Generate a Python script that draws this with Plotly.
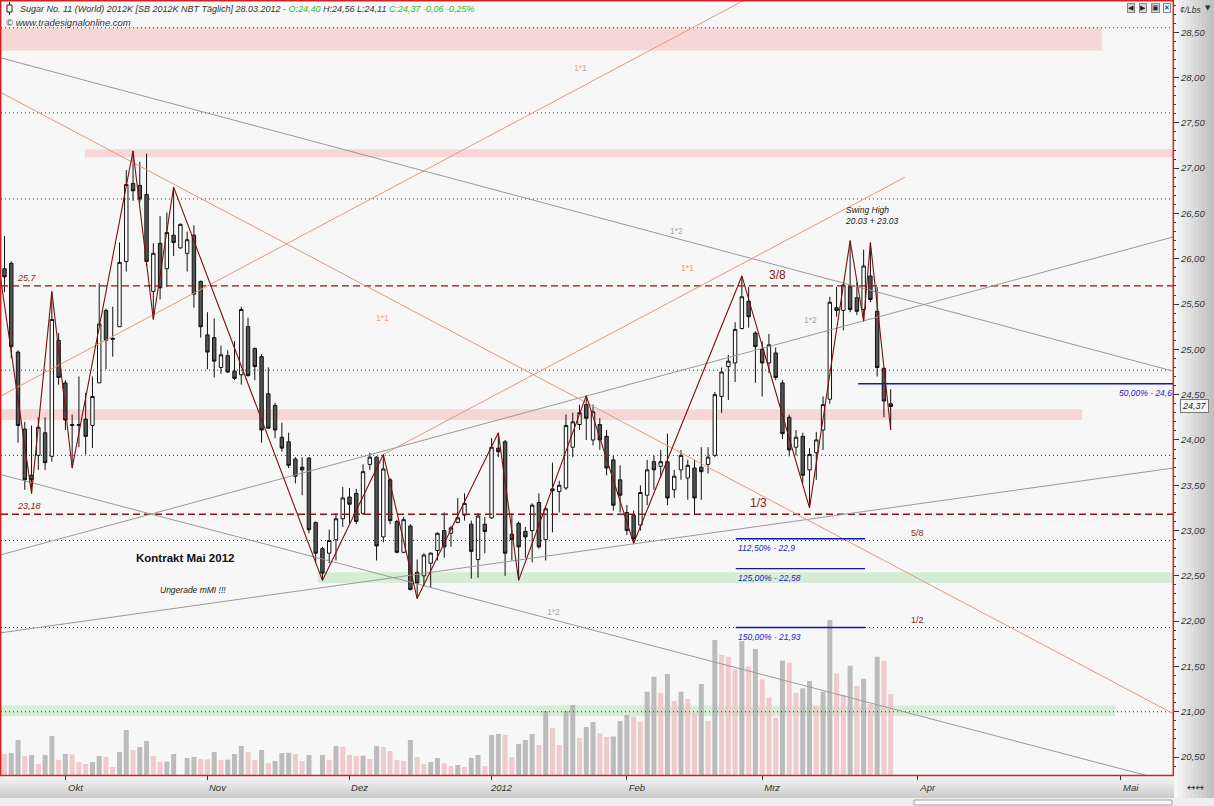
import plotly.graph_objects as go

FONT = "Liberation Sans"

# ---------------- data ----------------
days = list(range(132))   # trading-day index, 0 = 20.09.2011 ... 131 = 28.03.2012

opens = [25.89,25.95,24.97,24.12,23.61,23.83,24.08,23.82,25.10,24.63,
         24.17,24.16,24.23,24.16,24.63,25.43,25.11,25.25,25.97,26.83,
         26.81,26.71,25.64,26.17,25.89,26.26,26.12,26.06,26.26,25.75,
         25.16,25.13,24.80,24.93,24.76,24.72,25.25,25.01,24.92,24.51,
         24.38,24.03,23.98,23.79,23.70,23.80,23.09,22.80,22.75,22.90,
         23.13,23.37,23.41,23.19,23.73,23.81,22.93,23.56,23.10,22.76,
         23.05,22.54,22.50,22.64,22.78,23.00,22.97,23.09,23.17,23.07,
         22.68,23.07,23.14,23.91,23.98,22.96,23.08,22.99,23.00,23.31,
         22.90,23.46,23.43,23.47,23.92,24.17,24.39,24.00,24.17,24.04,
         23.78,23.56,23.20,23.17,23.06,23.39,23.76,23.71,23.76,23.45,
         23.67,23.58,23.69,23.70,23.73,23.83,24.48,24.81,24.85,25.23,
         25.53,25.18,25.00,24.85,24.96,24.63,24.25,23.92,24.04,23.67,
         23.86,24.11,24.45,25.46,25.43,25.69,25.57,25.44,25.81,25.42,
         24.79,24.40]
highs = [26.25,25.97,24.99,24.20,24.16,24.25,24.25,25.64,25.18,24.66,
         24.28,24.70,24.52,24.70,25.73,25.45,25.47,26.18,26.98,27.19,
         27.07,27.16,26.17,26.47,26.51,26.79,26.39,26.30,26.37,25.76,
         25.41,25.34,25.04,24.99,25.09,25.47,25.35,25.02,24.95,24.80,
         24.41,24.19,24.08,23.81,23.81,23.81,23.10,22.82,23.01,23.19,
         23.48,23.47,23.46,23.73,23.86,23.82,23.84,23.58,23.12,23.15,
         23.07,22.68,22.75,22.76,22.98,23.20,23.05,23.36,23.41,23.11,
         23.19,23.15,24.02,24.08,24.00,23.19,23.10,23.04,23.30,23.41,
         23.26,23.75,23.55,24.28,24.30,24.39,24.49,24.39,24.24,24.11,
         23.83,23.72,23.28,23.22,23.50,23.78,23.83,23.89,24.07,23.67,
         23.89,23.78,23.78,23.92,23.92,24.53,24.80,24.94,25.30,25.81,
         25.69,25.20,25.09,25.17,25.02,24.66,24.28,24.11,24.08,23.91,
         24.09,24.48,25.58,25.69,25.72,26.20,25.74,26.10,26.18,25.69,
         24.80,24.56]
lows = [25.63,24.90,23.97,23.45,23.41,23.67,23.67,23.76,24.61,24.11,
        23.69,23.92,23.84,23.91,24.63,24.78,24.92,25.25,25.86,26.64,
        26.62,25.92,25.33,25.55,25.69,26.03,26.11,25.86,25.46,25.13,
        24.78,24.69,24.73,24.74,24.66,24.61,24.70,24.66,23.97,24.12,
        24.02,23.87,23.69,23.52,23.39,22.97,22.64,22.45,22.64,22.67,
        23.04,23.08,23.07,23.17,23.67,22.67,22.87,23.07,22.75,22.75,
        22.34,22.25,22.39,22.37,22.67,22.70,22.82,23.08,23.11,22.47,
        22.48,22.75,23.13,23.81,22.50,22.67,22.45,22.70,22.65,22.80,
        22.67,22.98,23.20,23.45,23.81,24.11,24.00,23.94,23.89,23.61,
        23.22,23.20,22.95,22.86,23.00,23.28,23.45,23.58,23.28,23.36,
        23.56,23.34,23.17,23.34,23.63,23.81,24.30,24.44,24.64,25.22,
        25.24,24.63,24.48,24.74,24.66,24.01,23.82,23.83,23.52,23.25,
        23.56,23.89,24.40,25.36,25.21,25.41,25.38,25.31,25.52,24.70,
        24.25,24.11]
closes = [25.80,25.03,24.16,23.56,23.56,24.14,23.75,25.33,24.69,24.22,
          24.16,24.17,24.04,24.48,25.28,25.10,25.12,25.96,26.82,26.75,
          26.66,25.97,26.06,25.68,26.29,26.18,26.38,26.21,25.61,25.25,
          24.97,24.87,24.94,24.75,24.68,25.44,24.71,24.81,24.11,24.13,
          24.11,23.91,23.72,23.60,23.67,23.01,22.75,22.53,22.89,23.13,
          23.36,23.29,23.10,23.65,23.81,22.83,23.68,23.11,22.76,23.12,
          22.35,22.42,22.73,22.75,22.97,22.82,23.03,23.14,23.30,22.77,
          23.16,22.99,23.92,23.87,22.75,22.90,22.82,22.93,23.28,22.82,
          23.24,23.44,23.50,24.16,24.20,24.30,24.24,24.31,24.00,23.69,
          23.28,23.39,23.00,22.91,23.42,23.67,23.67,23.76,23.36,23.60,
          23.83,23.72,23.36,23.65,23.81,24.50,24.75,24.87,25.22,25.58,
          25.36,25.03,24.85,25.05,24.69,24.07,23.89,24.03,23.61,23.84,
          24.00,24.39,25.52,25.43,25.71,25.44,25.42,25.92,25.55,24.80,
          24.43,24.37]
# volume, thousand lots
volume = [21,22,35,19,20,11,20,39,15,21,
          20.5,13,11,13,19,18,8,23,45,25,
          28,34,19,13,13.5,21,0,17,18,16,
          15.7,23,15,15.3,21,29,23,15,25,12,
          14,22,22.3,21,14,20,0,20,15,29,
          28,20,19,19.3,16,29,28,24,15,14,
          35,18,11,13,17,12,9,10,8,17,
          20,9,40,41,40,18,31,35,41,30,
          64,47,30,64,70,37,48,53,41.7,38,
          38.5,54,60,58.3,53.3,83.3,98.3,82.3,101,74,
          83.3,76,62.3,91,54,135,120,118.3,105.7,134,
          108.3,126,95.7,77.3,57.3,114.3,112.3,82.3,86.7,94,
          69,83.3,155,101.7,80,109.3,89,96.3,71,118.3,
          114.3,81]

# zigzag swing pivots (day index, H/L)
zz_start = (-0.6, 25.80)
zz_pivots = [(4,'L'),(7,'H'),(10,'L'),(19,'H'),(22,'L'),(25,'H'),(47,'L'),(56,'H'),
             (61,'L'),(73,'H'),(76,'L'),(86,'H'),(93,'L'),(109,'H'),(119,'L'),
             (125,'H'),(127,'L'),(128,'H'),(131,'L')]

# trend / gann lines: ((day0, price0), (day1, price1))
gray_lines = [((-0.67, 28.22), (172.73, 24.76)),
              ((-0.67, 22.73), (172.73, 26.24)),
              ((-0.67, 23.62), (172.73, 20.22)),
              ((-0.67, 21.87), (172.73, 23.69))]
orange_lines = [((-0.67, 24.48), (109.5, 28.86)),
                ((56, 23.84), (133.1, 26.90)),
                ((-0.67, 27.84), (172.73, 20.98))]

dotted_levels = [21.00, 21.93, 22.89, 23.83, 24.77, 26.66, 27.61, 28.55]
dashed_levels = [25.70, 23.18]
dashed_labels = ["25,7", "23,18"]

pink_bands = [(-0.6, 162.2, 28.30, 28.55), (11.9, 172.8, 27.12, 27.21), (-0.6, 159.3, 24.22, 24.34)]
green_bands = [(46.3, 172.8, 22.42, 22.54), (-0.6, 164.2, 20.95, 21.07)]

fib_pct = ["50,00%", "112,50%", "125,00%", "150,00%"]
fib_levels = [24.62, 22.91, 22.58, 21.93]
fib_values = ["24,6", "22,9", "22,58", "21,93"]
fib_start = [126.2, 108.1, 108.1, 108.1]
fib_end = [172.8, 127.2, 127.2, 127.2]

mm_labels = ["3/8", "1/3", "5/8", "1/2"]
mm_day = [114.3, 111.4, 135.0, 135.0]
mm_price = [25.70, 23.18, 22.89, 21.93]

gann_labels = ["1*1", "1*1", "1*1", "1*2", "1*2", "1*2"]
gann_day = [85.1, 101.0, 55.9, 99.3, 119.1, 81.1]
gann_price = [28.11, 25.90, 25.35, 26.31, 25.32, 22.10]

month_ticks = [9, 30, 51, 72, 92, 112, 135, 165]
month_labels = ["Okt", "Nov", "Dez", "2012", "Feb", "Mrz", "Apr", "Mai"]

X_RANGE = [-0.517, 172.73]
Y_RANGE = [20.302, 28.845]
VOL_RANGE = [0, 774]

# ---------------- helpers ----------------
W, H = 1214, 806
ML, MR, MT, MB = 1, 41, 1, 31
PW, PH = W - ML - MR, H - MT - MB


def px(x):
    return (x - ML) / PW


def py(y):
    return (MT + PH - y) / PH


def de(v, nd=2):
    return f"{v:.{nd}f}".replace('.', ',')


fig = go.Figure()

# volume (base axis, drawn first)
vcol = []
for i, v in enumerate(volume):
    up = i > 0 and v >= volume[i - 1]
    vcol.append('#b5b5b5' if up else '#efc5c5')
fig.add_trace(go.Bar(x=days, y=volume, marker=dict(color=vcol, line=dict(width=0)),
                     width=0.74, opacity=0.88, yaxis='y', hoverinfo='skip', showlegend=False))

xl = [X_RANGE[0], X_RANGE[1]]
for lv in dotted_levels:
    fig.add_trace(go.Scatter(x=xl, y=[lv, lv], mode='lines', yaxis='y2',
                             line=dict(color='#333333', width=1, dash='1px,3px'),
                             hoverinfo='skip', showlegend=False))
for lv in dashed_levels:
    fig.add_trace(go.Scatter(x=xl, y=[lv, lv], mode='lines', yaxis='y2',
                             line=dict(color='#8b1414', width=1.3, dash='7px,4px'),
                             hoverinfo='skip', showlegend=False))
for (a, b) in gray_lines:
    fig.add_trace(go.Scatter(x=[a[0], b[0]], y=[a[1], b[1]], mode='lines', yaxis='y2',
                             line=dict(color='#9a9a9a', width=1), hoverinfo='skip', showlegend=False))
for (a, b) in orange_lines:
    fig.add_trace(go.Scatter(x=[a[0], b[0]], y=[a[1], b[1]], mode='lines', yaxis='y2',
                             line=dict(color='#e39a7c', width=1), hoverinfo='skip', showlegend=False))
zx = [zz_start[0]] + [d for d, t in zz_pivots]
zy = [zz_start[1]] + [highs[d] if t == 'H' else lows[d] for d, t in zz_pivots]
fig.add_trace(go.Scatter(x=zx, y=zy, mode='lines', yaxis='y2',
                         line=dict(color='#7d0f0f', width=1.1), hoverinfo='skip', showlegend=False))
for s, e, lv in zip(fib_start, fib_end, fib_levels):
    fig.add_trace(go.Scatter(x=[s, e], y=[lv, lv], mode='lines', yaxis='y2',
                             line=dict(color='#1414b4', width=1.4), hoverinfo='skip', showlegend=False))
fig.add_trace(go.Candlestick(x=days, open=opens, high=highs, low=lows, close=closes, yaxis='y2',
                             increasing=dict(line=dict(color='#111111', width=1), fillcolor='#ffffff'),
                             decreasing=dict(line=dict(color='#111111', width=1), fillcolor='#555555'),
                             whiskerwidth=0, hoverinfo='skip', showlegend=False))

shapes = []
for x0, x1, lo, hi in pink_bands:
    shapes.append(dict(type='rect', xref='x', yref='y2', x0=x0, x1=x1, y0=lo, y1=hi,
                       fillcolor='#f6d6d6', line=dict(width=0), layer='below'))
for x0, x1, lo, hi in green_bands:
    shapes.append(dict(type='rect', xref='x', yref='y2', x0=x0, x1=x1, y0=lo, y1=hi,
                       fillcolor='#d5ecd5', line=dict(width=0), layer='below'))

for k in range(10):
    g = int(246 - k * 6)
    shapes.append(dict(type='rect', xref='paper', yref='paper',
                       x0=px(1174 + k * 4.0), x1=px(1174 + (k + 1) * 4.0 + 0.5), y0=py(806), y1=py(0),
                       fillcolor=f'rgb({g},{g},{g})', line=dict(width=0), layer='below'))
for k in range(11):
    g = int(244 - k * 4)
    shapes.append(dict(type='rect', xref='paper', yref='paper',
                       x0=px(0), x1=px(1174), y0=py(776 + (k + 1) * 2 + 0.3), y1=py(776 + k * 2),
                       fillcolor=f'rgb({g},{g},{g})', line=dict(width=0), layer='below'))
shapes.append(dict(type='rect', xref='paper', yref='paper', x0=px(0), x1=px(1214), y0=py(806), y1=py(798),
                   fillcolor='#eeeeee', line=dict(width=0), layer='below'))
shapes.append(dict(type='rect', xref='paper', yref='paper', x0=px(914), x1=px(1172), y0=py(805), y1=py(800),
                   fillcolor='#f8f8f8', line=dict(color='#a0a0a0', width=1), layer='below'))
shapes.append(dict(type='rect', xref='paper', yref='paper', x0=px(0.7), x1=px(1173.3), y0=py(775.5), y1=py(0.7),
                   line=dict(color='#d42020', width=1.5), fillcolor='rgba(0,0,0,0)', layer='above'))
shapes.append(dict(type='line', xref='paper', yref='paper', x0=px(9.5), x1=px(9.5), y0=py(15), y1=py(2),
                   line=dict(color='#222', width=1)))
shapes.append(dict(type='rect', xref='paper', yref='paper', x0=px(7), x1=px(12), y0=py(12), y1=py(5),
                   line=dict(color='#222', width=1), fillcolor='#ffffff'))

ann = []
o, h, l, c = opens[-1], highs[-1], lows[-1], closes[-1]
chg = c - closes[-2]
pct = chg / closes[-2] * 100
green = '#2eb82e'
header = (f"Sugar No. 11 (World) 2012K [SB 2012K NBT Täglich] 28.03.2012 - "
          f"<span style='color:{green}'>O:{de(o)}</span> H:{de(h)} L:{de(l)} "
          f"<span style='color:{green}'>C:{de(c)} {de(chg)} {de(pct)}%</span>")
ann.append(dict(xref='paper', yref='paper', x=px(18), y=py(9), text=header, showarrow=False,
                xanchor='left', yanchor='middle', font=dict(family=FONT, size=9, color='#333', style='italic')))
ann.append(dict(xref='paper', yref='paper', x=px(4), y=py(23), text="© www.tradesignalonline.com", showarrow=False,
                xanchor='left', yanchor='middle', font=dict(family=FONT, size=9.5, color='#333', style='italic')))

dred = '#8b1a1a'
for lv, lab in zip(dashed_levels, dashed_labels):
    ann.append(dict(xref='x', yref='y2', x=1.6, y=lv, text=lab, showarrow=False, xanchor='left',
                    yanchor='bottom', yshift=1, font=dict(family=FONT, size=9, color=dred, style='italic')))
for lab, d, p in zip(mm_labels, mm_day, mm_price):
    big = lab in ("3/8", "1/3")
    ann.append(dict(xref='x', yref='y2', x=d, y=p, text=lab, showarrow=False, xanchor='center',
                    yanchor='bottom', yshift=2 if big else 1,
                    font=dict(family=FONT, size=12 if big else 9, color=dred)))
for lab, d, p in zip(gann_labels, gann_day, gann_price):
    col = '#e8a080' if lab == "1*1" else '#a8a8a8'
    ann.append(dict(xref='x', yref='y2', x=d, y=p, text=lab, showarrow=False,
                    font=dict(family=FONT, size=8.5, color=col)))
for pc, val, s, lv in zip(fib_pct, fib_values, fib_start, fib_levels):
    xs = s if s < 120 else 164.4
    ann.append(dict(xref='x', yref='y2', x=xs, y=lv, text=f"{pc} - {val}", showarrow=False,
                    xanchor='left', yanchor='top', yshift=-2,
                    font=dict(family=FONT, size=8.5, color='#2323c8', style='italic')))
ann.append(dict(xref='x', yref='y2', x=124.0, y=26.48, text="Swing High<br>20.03 + 23.03", showarrow=False,
                xanchor='left', yanchor='middle', align='left',
                font=dict(family=FONT, size=8.5, color='#222', style='italic')))
ann.append(dict(xref='x', yref='y2', x=26.7, y=22.70, text="<b>Kontrakt Mai 2012</b>", showarrow=False,
                font=dict(family=FONT, size=11.5, color='#111')))
ann.append(dict(xref='x', yref='y2', x=27.9, y=22.345, text="Ungerade mMI !!!", showarrow=False,
                font=dict(family=FONT, size=8.5, color='#222', style='italic')))
ann.append(dict(xref='paper', yref='y2', x=px(1180), y=c, text=de(c), showarrow=False, xanchor='left',
                yanchor='middle', bgcolor='#f6f6f6', bordercolor='#777', borderwidth=1, borderpad=1,
                font=dict(family=FONT, size=9, color='#222', style='italic')))
ann.append(dict(xref='paper', yref='paper', x=px(1178), y=py(10), text="¢/Lbs", showarrow=False,
                xanchor='left', yanchor='middle', font=dict(family=FONT, size=8.5, color='#333', style='italic')))
ann.append(dict(xref='paper', yref='paper', x=px(1208), y=py(8), text="▼", showarrow=False,
                xanchor='center', yanchor='middle', font=dict(family="DejaVu Sans", size=7, color='#333')))
for k, sym in enumerate(["◀", "▶", "▣", "✕"]):
    ann.append(dict(xref='paper', yref='paper', x=px(1131 + k * 12), y=py(8), text=sym, showarrow=False,
                    xanchor='center', yanchor='middle', bgcolor='#d6d6d6' if k < 3 else '#eeeeee',
                    bordercolor='#888', borderwidth=1, borderpad=0,
                    font=dict(family="DejaVu Sans", size=7, color='#222')))
ann.append(dict(xref='paper', yref='paper', x=px(1195), y=py(787), text="↔↔", showarrow=False,
                xanchor='center', yanchor='middle', font=dict(family="DejaVu Sans", size=10, color='#333')))

fig.update_layout(
    width=W, height=H,
    margin=dict(l=ML, r=MR, t=MT, b=MB, autoexpand=False),
    paper_bgcolor='#f4f4f4', plot_bgcolor='#f7f7f7',
    separators=',.', showlegend=False, boxgap=0.28,
    shapes=shapes, annotations=ann,
    xaxis=dict(range=X_RANGE, showgrid=False, zeroline=False, showline=False,
               tickmode='array', tickvals=month_ticks, ticktext=month_labels,
               ticks='outside', ticklen=4, tickcolor='#333', ticklabelshift=10,
               tickfont=dict(family=FONT, size=9.5, color='#333', style='italic'),
               rangeslider=dict(visible=False), fixedrange=True),
    yaxis=dict(range=VOL_RANGE, visible=False, fixedrange=True),
    yaxis2=dict(range=Y_RANGE, overlaying='y', side='right', showgrid=False, zeroline=False,
                showline=False, tick0=20.5, dtick=0.5, tickformat='.2f',
                ticks='outside', ticklen=5, tickcolor='#333',
                tickfont=dict(family=FONT, size=9.5, color='#333', style='italic'),
                minor=dict(ticks='outside', ticklen=2, tickcolor='#333', tick0=20.0, dtick=0.1, showgrid=False),
                fixedrange=True),
)

fig.write_html("out.html", config={'displayModeBar': False},
               post_script="document.body.style.margin='0';document.body.style.padding='0';"
                           "document.body.style.overflow='hidden';")
